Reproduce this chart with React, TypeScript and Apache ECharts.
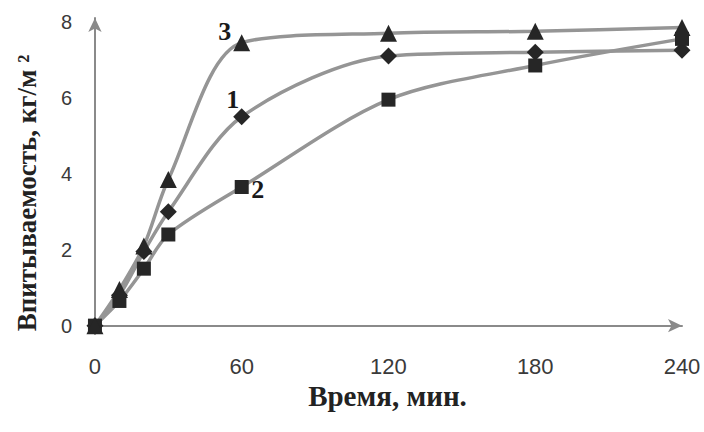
import React, { useEffect, useRef } from "react";
import * as echarts from "echarts";

const times = [0, 10, 20, 30, 60, 120, 180, 240];
const series1 = [0, 0.8, 1.95, 3.0, 5.5, 7.1, 7.2, 7.25];
const series2 = [0, 0.65, 1.5, 2.4, 3.65, 5.95, 6.85, 7.55];
const series3 = [0, 0.95, 2.1, 3.85, 7.45, 7.7, 7.75, 7.85];
const xTicks = [0, 60, 120, 180, 240];
const yTicks = [0, 2, 4, 6, 8];
const curveNames = ["1", "2", "3"];
const xTitle = "Время, мин.";
const yTitle = "Впитываемость, кг/м ²";

export default function App() {
  const ref = useRef<HTMLDivElement>(null);
  useEffect(() => {
    if (!ref.current) return;
    const chart = echarts.init(ref.current, null, { renderer: "svg" });
    const mk = (vals: number[], symbol: string, name: string, labelIdx: number, offset: number[], size: number) => ({
      type: "line",
      name,
      smooth: 0.3,
      symbol,
      symbolSize: size,
      z: 3,
      itemStyle: { color: "#262626" },
      lineStyle: { color: "#959595", width: 3.5 },
      data: vals.map((v, i) => {
        const d: any = { value: [times[i], v] };
        if (i === labelIdx) {
          d.label = {
            show: true,
            formatter: name,
            position: "inside",
            offset,
            fontFamily: "Liberation Serif",
            fontWeight: "bold",
            fontSize: 26,
            color: "#1a1a1a",
          };
        }
        return d;
      }),
    });
    chart.setOption({
      animation: false,
      backgroundColor: "#ffffff",
      grid: { left: 93, right: 22, top: 18, bottom: 98, containLabel: false },
      graphic: [
        {
          type: "text",
          x: 27,
          y: 193,
          rotation: Math.PI / 2,
          style: {
            text: yTitle,
            fontFamily: "Liberation Serif",
            fontWeight: "bold",
            fontSize: 27,
            fill: "#222",
            align: "center",
            verticalAlign: "middle",
          },
        },
      ],
      xAxis: {
        type: "value",
        min: -0.8,
        max: 240,
        name: xTitle,
        nameLocation: "middle",
        nameGap: 47,
        nameTextStyle: { fontFamily: "Liberation Serif", fontWeight: "bold", fontSize: 29, color: "#222" },
        axisLine: { show: true, symbol: ["none", "arrow"], symbolSize: [10, 14], lineStyle: { color: "#8a8a8a", width: 2 } },
        axisTick: { show: false },
        splitLine: { show: false },
        axisLabel: { customValues: xTicks, margin: 21, fontFamily: "Liberation Sans", fontSize: 22, color: "#3a3a3a" },
      },
      yAxis: {
        type: "value",
        min: -0.22,
        max: 8.1,
        axisLine: { show: true, symbol: ["none", "arrow"], symbolSize: [10, 14], lineStyle: { color: "#8a8a8a", width: 2 } },
        axisTick: { show: false },
        splitLine: { show: false },
        axisLabel: { customValues: yTicks, margin: 21, fontFamily: "Liberation Sans", fontSize: 20, color: "#3a3a3a" },
      },
      series: [
        mk(series1, "diamond", curveNames[0], 4, [-9, -17], 17),
        mk(series2, "rect", curveNames[1], 4, [16, 2], 14),
        mk(series3, "triangle", curveNames[2], 4, [-17, -11], 17),
      ],
    });
    return () => chart.dispose();
  }, []);
  return <div ref={ref} style={{ width: 704, height: 432, position: "absolute", left: 0, top: 0 }} />;
}
